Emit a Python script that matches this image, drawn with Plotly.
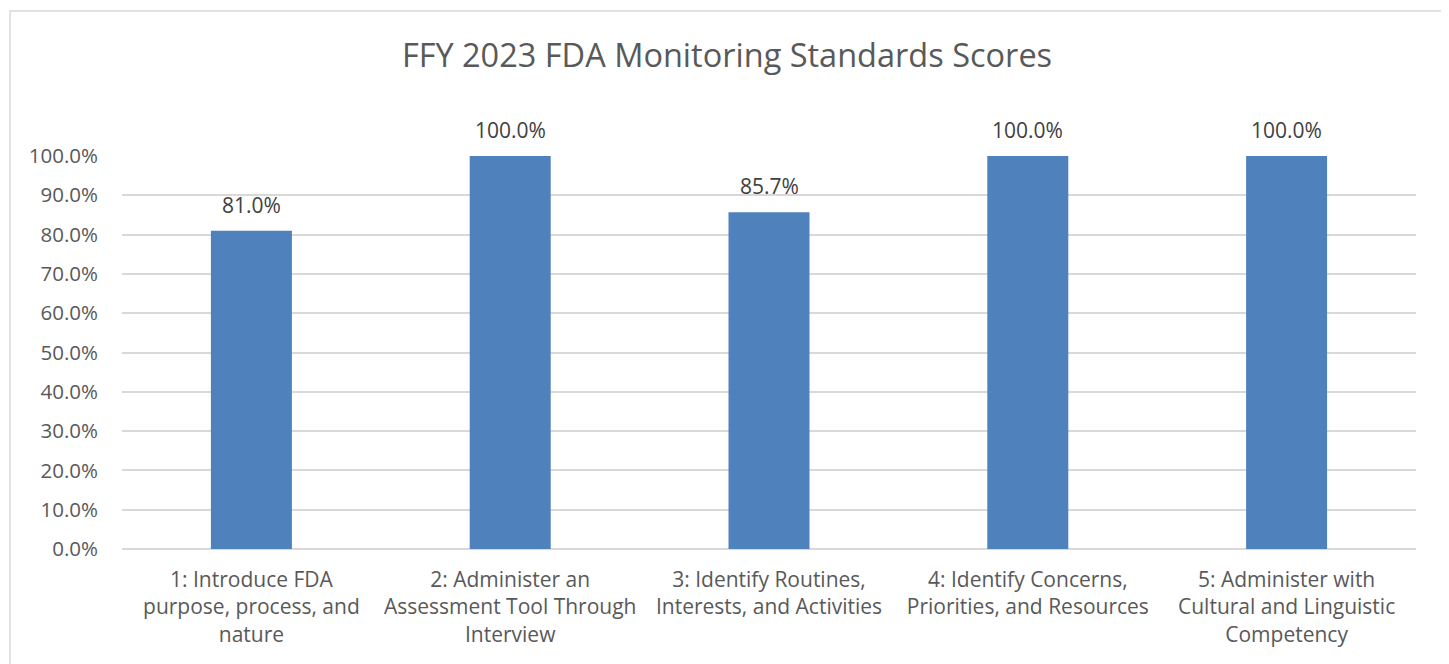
import plotly.graph_objects as go

categories = [
    "1: Introduce FDA<br>purpose, process, and<br>nature",
    "2: Administer an<br>Assessment Tool Through<br>Interview",
    "3: Identify Routines,<br>Interests, and Activities",
    "4: Identify Concerns,<br>Priorities, and Resources",
    "5: Administer with<br>Cultural and Linguistic<br>Competency",
]
scores = [0.810, 1.000, 0.857, 1.000, 1.000]
tick_vals = [0, 0.1, 0.2, 0.3, 0.4, 0.5, 0.6, 0.7, 0.8, 0.9, 1.0]

FONT = "Open Sans, Liberation Sans, sans-serif"
OFF = 8  # page body offset

fig = go.Figure(go.Bar(
    x=categories, y=scores,
    marker=dict(color="#4f81bd", line=dict(width=0)),
    width=0.313,
    hoverinfo="x+y",
))

annotations = [
    dict(x=c, y=v, xref="x", yref="y", text=f"{v*100:.1f}%", showarrow=False,
         yanchor="bottom", yshift=10,
         font=dict(family=FONT, size=21, color="#404040"))
    for c, v in zip(categories, scores)
]

fig.update_layout(
    width=1449, height=664,
    margin=dict(l=122 - OFF, r=33 + OFF, t=156 - OFF, b=115 + OFF),
    paper_bgcolor="white", plot_bgcolor="white",
    title=dict(text="FFY 2023 FDA Monitoring Standards Scores", x=(727 - OFF) / 1449, xanchor="center",
               y=1 - (56 - OFF) / 664, yanchor="middle",
               font=dict(family=FONT, size=32.5, color="#595959")),
    showlegend=False,
    annotations=annotations,
    xaxis=dict(tickfont=dict(family=FONT, size=21, color="#595959"),
               showline=False, showgrid=False, ticks="", ticklabelstandoff=16),
    yaxis=dict(range=[0, 1.0], tickvals=tick_vals, tickformat=".1%",
               tickfont=dict(family=FONT, size=20.5, color="#595959"),
               gridcolor="#d9d9d9", gridwidth=1.5, zeroline=True, zerolinecolor="#d9d9d9",
               zerolinewidth=1.5, showline=False, ticks="", ticklabelstandoff=23),
    shapes=[dict(type="rect", xref="paper", yref="paper",
                 x0=(10-122)/1294, x1=(1443-122)/1294,
                 y0=(549-700)/393, y1=(549-11)/393,
                 line=dict(color="#d9d9d9", width=1.5), fillcolor="rgba(0,0,0,0)", layer="below")],
)

fig.write_html("out.html")
